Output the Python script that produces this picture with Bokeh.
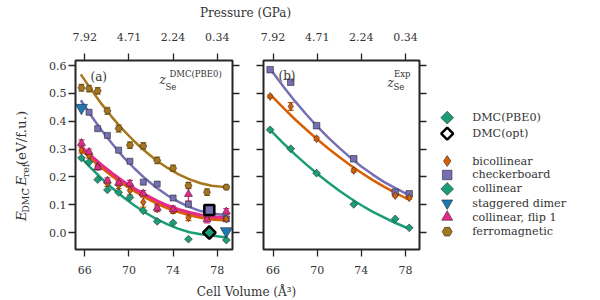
import numpy as np
from bokeh.plotting import figure
from bokeh.layouts import column, row
from bokeh.models import (Range1d, LinearAxis, FixedTicker, CustomJSTickFormatter,
                          NumeralTickFormatter, Label, Whisker, ColumnDataSource, TeeHead)
from bokeh.core.properties import value
from bokeh.embed import file_html
from bokeh.resources import INLINE

FONT = "DejaVu Serif"
INK = "#262626"
TXT = "#333333"
TEAL, ORANGE, PURPLE, PINK, BROWN, BLUE = "#1b9e77", "#d95f02", "#7570b3", "#e7298a", "#a6761d", "#1f78b4"

# ---------------- data ----------------
volume_ticks = [66, 70, 74, 78]
pressure_labels = ["7.92", "4.71", "2.24", "0.34"]
energy_ticks = [0.0, 0.1, 0.2, 0.3, 0.4, 0.5, 0.6]

# panel (a): z_Se from DMC(PBE0)
vol_a = [65.70, 66.39, 67.17, 68.05, 69.07, 70.09, 71.30, 72.56, 74.00, 75.39, 77.07, 78.82]
ferro_a = [0.520, 0.517, 0.509, 0.437, 0.374, 0.314, 0.311, 0.259, 0.231, 0.169, 0.145, 0.163]
ferro_err_a = [0.012, 0.012, 0.012, 0.013, 0.013, 0.012, 0.012, 0.012, 0.011, 0.011, 0.012, 0.006]
flip_a = [0.321, 0.289, 0.234, 0.186, 0.178, 0.175, 0.140, 0.088, 0.083, 0.138, 0.047, 0.075]
flip_err_a = [0.012, 0.011, 0.009, 0.010, 0.010, 0.012, 0.011, 0.012, 0.012, 0.025, 0.012, 0.011]
bic_a = [0.295, 0.277, 0.237, 0.177, 0.170, 0.151, 0.109, 0.085, 0.079, 0.053, 0.055, 0.049]
bic_err_a = [0.010, 0.010, 0.010, 0.011, 0.012, 0.016, 0.018, 0.010, 0.010, 0.010, 0.010, 0.008]
vol_cb_a = [66.39, 67.17, 68.05, 69.07, 70.09, 71.30, 72.56, 74.00, 75.39, 78.82]
cb_a = [0.432, 0.373, 0.349, 0.296, 0.256, 0.181, 0.174, 0.124, 0.102, 0.049]
vol_col_a = [65.70, 66.39, 67.17, 68.05, 69.07, 70.09, 71.30, 72.56, 74.00, 75.39, 78.82]
col_a = [0.268, 0.253, 0.190, 0.153, 0.144, 0.126, 0.078, 0.040, 0.035, -0.024, -0.027]
vol_sd_a = [65.70, 78.82]
sd_a = [0.448, 0.005]
vol_opt_a = [77.28]
cb_opt_a = [0.081]
col_opt_a = [0.000]

fit_vol_a = [65.64, 66.5, 67.5, 68.5, 69.5, 70.5, 71.5, 72.5, 73.5, 74.5, 75.5, 76.5, 77.5, 78.5, 78.9]
fit_ferro_a = [0.568, 0.518, 0.463, 0.413, 0.368, 0.327, 0.291, 0.259, 0.232, 0.209, 0.191, 0.177, 0.168, 0.164, 0.163]
fit_cb_a = [0.475, 0.424, 0.368, 0.318, 0.271, 0.230, 0.193, 0.161, 0.133, 0.110, 0.091, 0.077, 0.068, 0.064, 0.063]
fit_flip_a = [0.310, 0.278, 0.244, 0.212, 0.183, 0.158, 0.135, 0.115, 0.097, 0.083, 0.072, 0.063, 0.057, 0.054, 0.054]
fit_bic_a = [0.300, 0.268, 0.234, 0.203, 0.174, 0.149, 0.126, 0.105, 0.088, 0.074, 0.063, 0.054, 0.048, 0.045, 0.045]
fit_col_a = [0.270, 0.234, 0.195, 0.159, 0.127, 0.097, 0.071, 0.048, 0.029, 0.013, 0.001, -0.006, -0.011, -0.016, -0.018]

# panel (b): experimental z_Se
vol_b = [65.73, 67.60, 69.94, 73.31, 77.07, 78.34]
cb_b = [0.585, 0.540, 0.384, 0.265, 0.145, 0.139]
bic_b = [0.489, 0.453, 0.337, 0.223, 0.133, 0.125]
bic_err_b = [0.005, 0.014, 0.006, 0.006, 0.005, 0.005]
col_b = [0.369, 0.301, 0.213, 0.101, 0.049, 0.017]

fit_vol_b = [65.73, 67, 68, 69, 70, 71, 72, 73, 74, 75, 76, 77, 78, 78.34]
fit_cb_b = [0.588, 0.521, 0.471, 0.425, 0.381, 0.341, 0.304, 0.269, 0.237, 0.209, 0.183, 0.161, 0.141, 0.135]
fit_bic_b = [0.496, 0.445, 0.406, 0.370, 0.335, 0.302, 0.271, 0.242, 0.215, 0.189, 0.166, 0.144, 0.124, 0.118]
fit_col_b = [0.369, 0.318, 0.280, 0.245, 0.211, 0.180, 0.150, 0.123, 0.098, 0.075, 0.055, 0.036, 0.019, 0.014]

legend_labels = ["DMC(PBE0)", "DMC(opt)", "bicollinear", "checkerboard", "collinear",
                 "staggered dimer", "collinear, flip 1", "ferromagnetic"]

# ---------------- layout constants (page pixels) ----------------
TOP_H, ROW_H, BOT_H = 22, 258, 20
ROW_TOP = TOP_H
Y_RANGE = (-0.061, 0.618)


def style_axis(ax, standoff):
    ax.axis_line_color = None
    ax.major_tick_out = 7
    ax.major_tick_in = 0
    ax.major_tick_line_color = INK
    ax.major_tick_line_width = 1.3
    ax.minor_tick_line_color = None
    ax.major_label_text_font = FONT
    ax.major_label_text_font_size = "11px"
    ax.major_label_text_color = TXT
    ax.major_label_standoff = standoff


def make_panel(xr, width, bl, br, left_labels):
    p = figure(width=width, height=ROW_H, x_range=Range1d(*xr), y_range=Range1d(*Y_RANGE),
               output_backend="svg", toolbar_location=None,
               x_axis_location=None, y_axis_location=None,
               min_border_left=bl, min_border_right=br, min_border_top=38, min_border_bottom=31)
    p.outline_line_color = INK
    p.outline_line_width = 2
    p.background_fill_color = "white"
    p.border_fill_color = "white"
    p.grid.visible = False
    blank = CustomJSTickFormatter(code="return ''")
    xb = LinearAxis(ticker=FixedTicker(ticks=volume_ticks))
    xt = LinearAxis(ticker=FixedTicker(ticks=volume_ticks),
                    major_label_overrides=dict(zip(volume_ticks, pressure_labels)))
    yl = LinearAxis(ticker=FixedTicker(ticks=energy_ticks),
                    formatter=NumeralTickFormatter(format="0.0") if left_labels else blank)
    yr = LinearAxis(ticker=FixedTicker(ticks=energy_ticks), formatter=blank)
    style_axis(xb, 9)
    style_axis(xt, 13)
    style_axis(yl, 2)
    style_axis(yr, 2)
    p.add_layout(xb, "below")
    p.add_layout(xt, "above")
    p.add_layout(yl, "left")
    p.add_layout(yr, "right")
    return p


def errbars(p, x, y, e, color):
    src = ColumnDataSource(dict(x=x, lo=[a - b for a, b in zip(y, e)], hi=[a + b for a, b in zip(y, e)]))
    w = Whisker(source=src, base="x", lower="lo", upper="hi", dimension="height",
                line_color=color, line_width=1.2, level="underlay",
                lower_head=TeeHead(size=6, line_color=color, line_width=1.2),
                upper_head=TeeHead(size=6, line_color=color, line_width=1.2))
    p.add_layout(w)


def mk(p, x, y, marker, size, color, angle=0.0, lc=INK, lw=0.6):
    p.scatter(x, y, marker=marker, size=size, angle=angle, fill_color=color,
              line_color=lc, line_width=lw)


def ydat(py):
    # page pixel row -> data units of the panels (layout helper for annotations)
    return Y_RANGE[1] - (py - 60) / 189 * (Y_RANGE[1] - Y_RANGE[0])


def lab(p, xr, px_off, py, text, size, style="normal"):
    p.add_layout(Label(x=xr[0], y=ydat(py), x_offset=px_off, text=text, text_font=FONT,
                       text_font_size=size, text_font_style=style, text_color=TXT,
                       text_align="left", text_baseline="middle"))


# ---------------- y-axis title column ----------------
YW = 38
ylab = figure(width=YW, height=ROW_H, x_range=Range1d(0, YW), y_range=Range1d(0, ROW_H),
              output_backend="svg", toolbar_location=None, x_axis_location=None, y_axis_location=None,
              min_border=0, outline_line_color=None)
ylab.grid.visible = False
R = np.pi / 2
ypieces = [  # (text, page x centre, page y start, size, style)
    ("E", 20, 241, "13.5px", "italic"),
    ("DMC", 24.5, 230, "9.5px", "normal"),
    ("-", 20, 202, "13.5px", "normal"),
    ("E", 20, 193, "13.5px", "italic"),
    ("ref", 24.5, 181.5, "9.5px", "normal"),
    ("(eV/f.u.)", 20, 165, "13.5px", "normal"),
]
for t, px, py, fs, st in ypieces:
    ylab.text(x=[px], y=[ROW_TOP + ROW_H - py], text=[t], angle=R, text_font=value(FONT),
              text_font_size=fs, text_font_style=st, text_align="left", text_baseline="middle",
              text_color=TXT)

# ---------------- panel (a) ----------------
XA = (65.16, 79.38)
pa = make_panel(XA, 209, 37, 15, True)
pa.line(fit_vol_a, fit_ferro_a, line_color=BROWN, line_width=2.5)
pa.line(fit_vol_a, fit_cb_a, line_color=PURPLE, line_width=2.5)
pa.line(fit_vol_a, fit_bic_a, line_color=ORANGE, line_width=3)
pa.line(fit_vol_a, fit_flip_a, line_color=PINK, line_width=3)
pa.line(fit_vol_a, fit_col_a, line_color=TEAL, line_width=2.5)
errbars(pa, vol_a, ferro_a, ferro_err_a, BROWN)
errbars(pa, vol_a, bic_a, bic_err_a, ORANGE)
errbars(pa, vol_a, flip_a, flip_err_a, PINK)
mk(pa, vol_a, ferro_a, "hex", 7, BROWN)
mk(pa, vol_cb_a, cb_a, "square", 6, PURPLE)
mk(pa, vol_a, bic_a, "diamond", 8, ORANGE)
mk(pa, vol_a, flip_a, "triangle", 8, PINK)
mk(pa, vol_col_a, col_a, "square", 5.5, TEAL, angle=np.pi / 4)
mk(pa, vol_sd_a, sd_a, "inverted_triangle", 12, BLUE)
mk(pa, vol_opt_a, cb_opt_a, "square", 10, PURPLE, lc="black", lw=2.5)
mk(pa, vol_opt_a, col_opt_a, "square", 9, TEAL, angle=np.pi / 4, lc="black", lw=2.5)
lab(pa, XA, 15, 76, "(a)", "12px")
lab(pa, XA, 84, 79, "z", "12px", "italic")
lab(pa, XA, 90, 86, "Se", "8.5px")
lab(pa, XA, 94, 73, "DMC(PBE0)", "8.5px")

# ---------------- panel (b) ----------------
XB = (65.13, 79.27)
pb = make_panel(XB, 187, 16, 15, False)
pb.line(fit_vol_b, fit_cb_b, line_color=PURPLE, line_width=2.5)
pb.line(fit_vol_b, fit_bic_b, line_color=ORANGE, line_width=2.5)
pb.line(fit_vol_b, fit_col_b, line_color=TEAL, line_width=2.5)
errbars(pb, vol_b, bic_b, bic_err_b, ORANGE)
mk(pb, vol_b, cb_b, "square", 6.5, PURPLE)
mk(pb, vol_b, bic_b, "diamond", 8, ORANGE)
mk(pb, vol_b, col_b, "square", 5.5, TEAL, angle=np.pi / 4)
lab(pb, XB, 15, 75, "(b)", "12px")
lab(pb, XB, 124, 82, "z", "12px", "italic")
lab(pb, XB, 130, 86, "Se", "8.5px")
lab(pb, XB, 130.5, 73, "Exp", "8.5px")

# ---------------- legend column ----------------
LW = 600 - YW - 209 - 187
leg = figure(width=LW, height=ROW_H, x_range=Range1d(0, LW), y_range=Range1d(0, ROW_H),
             output_backend="svg", toolbar_location=None, x_axis_location=None, y_axis_location=None,
             min_border=0, outline_line_color=None)
leg.grid.visible = False
leg_page_y = [100, 121.7, 159.3, 178.3, 197.3, 216.7, 235.7, 255.7]
leg_y = [ROW_TOP + ROW_H - v for v in leg_page_y]
leg_src = ColumnDataSource(dict(
    x=[12.7] * 8, y=leg_y,
    marker=["square", "square", "diamond", "square", "square", "inverted_triangle", "triangle", "hex"],
    size=[9, 8.5, 11, 9.5, 9, 11, 11, 10],
    angle=[np.pi / 4, np.pi / 4, 0, 0, np.pi / 4, 0, 0, 0],
    fill=[TEAL, "white", ORANGE, PURPLE, TEAL, BLUE, PINK, BROWN],
    lc=[INK, "black", INK, INK, INK, INK, INK, INK],
    lw=[0.6, 2.5, 0.6, 0.6, 0.6, 0.6, 0.6, 0.6],
))
leg.scatter("x", "y", marker="marker", size="size", angle="angle", fill_color="fill",
            line_color="lc", line_width="lw", source=leg_src)
leg.text(x=[37.7] * 8, y=leg_y, text=legend_labels, text_font=value(FONT), text_font_size="11.2px",
         text_baseline="middle", text_color=TXT)

# ---------------- title strips ----------------
W = 600


def strip(h, cx, cy_from_top, text):
    s = figure(width=W, height=h, x_range=Range1d(0, W), y_range=Range1d(0, h),
               output_backend="svg", toolbar_location=None, x_axis_location=None, y_axis_location=None,
               min_border=0, outline_line_color=None)
    s.grid.visible = False
    s.text(x=[cx], y=[h - cy_from_top], text=[text], text_font=value(FONT), text_font_size="12px",
           text_align="center", text_baseline="middle", text_color=TXT)
    return s


top = strip(TOP_H, 245, 12.5, "Pressure (GPa)")
bottom = strip(BOT_H, 246, 11.5, "Cell Volume (Å³)")

layout = column(top, row(ylab, pa, pb, leg), bottom)
open("out.html", "w").write(file_html(layout, INLINE))
